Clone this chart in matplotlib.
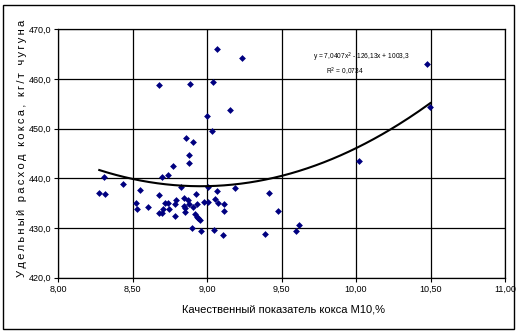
import numpy as np
import matplotlib
matplotlib.use("Agg")
import matplotlib.pyplot as plt
from matplotlib.patches import Rectangle

plt.rcParams['font.family'] = ['Liberation Sans', 'DejaVu Sans']

# Coke quality index M10 (%) vs specific coke consumption (kg/t hot metal)
m10 = [8.68, 8.886, 9.038, 9.067, 9.237, 9.154, 8.998, 9.034, 8.861, 8.906,
       8.879, 8.879, 8.77, 10.474, 10.499, 10.018, 9.416, 9.477, 9.387, 9.60,
       9.615, 8.277, 8.315, 8.311, 8.434, 8.55, 8.523, 8.528, 8.602, 8.678,
       8.68, 8.70, 8.703, 8.70, 8.74, 8.716, 8.736, 8.745, 8.787, 8.79,
       8.785, 8.823, 8.846, 8.846, 8.85, 8.852, 8.875, 8.877, 8.908, 8.897,
       8.924, 8.935, 8.919, 8.93, 8.942, 8.951, 8.958, 8.982, 9.009, 9.007,
       9.052, 9.067, 9.076, 9.049, 9.112, 9.112, 9.107, 9.186]
coke_rate = [458.8, 459.0, 459.4, 466.1, 464.2, 453.7, 452.5, 449.5, 448.2, 447.3,
             444.7, 443.1, 442.4, 463.1, 454.4, 443.5, 437.0, 433.4, 428.7, 429.4,
             430.6, 437.1, 436.8, 440.2, 438.8, 437.6, 435.0, 433.9, 434.2, 436.7,
             433.0, 433.0, 433.9, 440.2, 440.7, 435.0, 435.0, 433.8, 434.8, 435.6,
             432.5, 438.3, 436.1, 434.5, 434.0, 433.2, 435.6, 434.8, 434.3, 430.1,
             436.9, 434.8, 432.8, 432.3, 432.0, 431.6, 429.3, 435.2, 435.3, 438.3,
             435.9, 437.5, 435.0, 429.6, 434.8, 433.4, 428.6, 438.1]

# Polynomial trend (order 2) coefficients as stated in the equation label
trend_a, trend_b, trend_c = 7.0407, -126.13, 1003.3
r_squared = 0.0734

x_ticks = [8.0, 8.5, 9.0, 9.5, 10.0, 10.5, 11.0]
y_ticks = [420, 430, 440, 450, 460, 470]

fig = plt.figure(figsize=(5.2, 3.34), dpi=100)
ax = fig.add_axes([58/520, 1-277.7/334, (505-58)/520, (277.7-29.3)/334])

# outer chart frame
fig.patches.append(Rectangle((3/520, 5/334), 511/520, 324/334, transform=fig.transFigure,
                             fill=False, edgecolor='black', linewidth=1.0))

ax.set_xlim(8.0, 11.0)
ax.set_ylim(420, 470)
ax.set_xticks(x_ticks)
ax.set_yticks(y_ticks)
ax.set_xticklabels([f"{v:.2f}".replace('.', ',') for v in x_ticks], fontsize=6.5)
ax.set_yticklabels([f"{v:.1f}".replace('.', ',') for v in y_ticks], fontsize=6.5)
ax.tick_params(direction='out', length=3, width=0.8, color='black', pad=2)
ax.grid(True, color='black', linewidth=0.9)
ax.set_axisbelow(True)
for s in ax.spines.values():
    s.set_color('black')
    s.set_linewidth(0.9)

ax.scatter(m10, coke_rate, marker='D', s=12, color='#000080', zorder=3, linewidths=0)

xs = np.linspace(min(m10), max(m10), 200)
ax.plot(xs, trend_a*xs**2 + trend_b*xs + trend_c, color='black', linewidth=1.5, zorder=4)

eq = f"y = {trend_a:.4f}".replace('.', ',') + "x$^2$ - " + f"{-trend_b:.2f}".replace('.', ',') + \
     "x + " + f"{trend_c:.1f}".replace('.', ',')
fig.text(361/520, 1-57/334, eq, fontsize=4.8, ha='center', va='center')
fig.text(345/520, 1-72/334, "R$^2$ = " + f"{r_squared:.4f}".replace('.', ','),
         fontsize=4.8, ha='center', va='center')

fig.text(283/520, 1-310/334, "Качественный показатель кокса М10,%", fontsize=8,
         ha='center', va='center')
ylab = "Удельный расход кокса, кг/т чугуна"
fig.text(22/520, 1-148/334, "\u2009".join(ylab), fontsize=8, rotation=90,
         ha='center', va='center')

fig.savefig("out.png", dpi=100)
